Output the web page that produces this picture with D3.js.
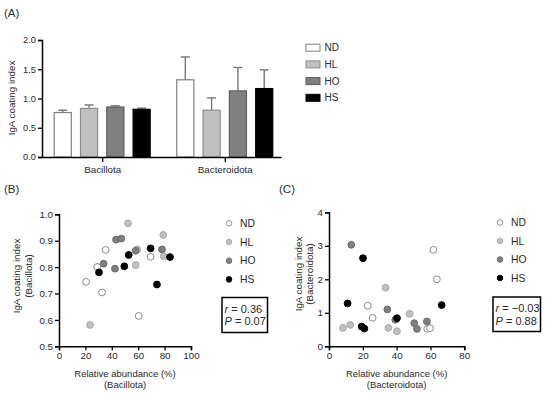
<!DOCTYPE html>
<html>
<head>
<meta charset="utf-8">
<script src="https://cdn.jsdelivr.net/npm/d3@7/dist/d3.min.js"></script>
<style>
  html, body { margin: 0; padding: 0; background: #fff; }
  svg { display: block; font-family: "Liberation Sans", Arial, Helvetica, sans-serif; }
</style>
</head>
<body>
<svg id="chart" width="550" height="393"></svg>
<script>
// ---------- DATA ----------
const groups = ["ND", "HL", "HO", "HS"];
const barCategories = ["Bacillota", "Bacteroidota"];
const bacillotaMean = [0.76, 0.83, 0.855, 0.815];
const bacillotaErr = [0.04, 0.06, 0.02, 0.02];
const bacteroidotaMean = [1.32, 0.80, 1.13, 1.17];
const bacteroidotaErr = [0.39, 0.21, 0.40, 0.32];
const barYTicks = [0, 0.5, 1.0, 1.5, 2.0];

const bND = [[20.5, 0.744], [29, 0.801], [35.4, 0.865], [32.6, 0.704], [60.4, 0.615], [69.4, 0.839]];
const bHL = [[52.3, 0.966], [79, 0.922], [79.3, 0.841], [59.3, 0.867], [58.1, 0.808], [23.5, 0.581]];
const bHO = [[33.8, 0.813], [43.2, 0.904], [47.2, 0.908], [42.4, 0.794], [58.1, 0.862], [78, 0.867]];
const bHS = [[30.3, 0.780], [52.8, 0.846], [49.5, 0.803], [69.4, 0.871], [84.1, 0.838], [74.2, 0.734]];
const bXTicks = [0, 20, 40, 60, 80, 100];
const bYTicks = [0.5, 0.6, 0.7, 0.8, 0.9, 1.0];
const bStats = ["0.36", "0.07"];

const cND = [[22.9, 1.21], [25.8, 0.85], [61.7, 2.88], [63.8, 2.00], [58.1, 0.52], [59.7, 0.54]];
const cHL = [[8.3, 0.55], [12.6, 0.64], [33.5, 1.75], [35.1, 0.55], [40.2, 0.45], [47.7, 0.97]];
const cHO = [[13.2, 3.03], [34.5, 1.10], [39.2, 0.79], [50.4, 0.69], [52, 0.52], [57.9, 0.74]];
const cHS = [[20.1, 2.63], [11, 1.28], [40.2, 0.84], [19.3, 0.59], [20.9, 0.53], [66.6, 1.23]];
const cXTicks = [0, 20, 40, 60, 80];
const cYTicks = [0, 1, 2, 3, 4];
const cStats = ["\u22120.03", "0.88"];

// ---------- STYLE ----------
const fills = { ND: "#ffffff", HL: "#c0c0c0", HO: "#808080", HS: "#000000" };
const strokes = { ND: "#8a8a8a", HL: "#a8a8a8", HO: "#6a6a6a", HS: "#000000" };
const barStrokes = { ND: "#808080", HL: "#8c8c8c", HO: "#5e5e5e", HS: "#000000" };
const textColor = "#2a2a2a";

const svg = d3.select("#chart");

function styleAxis(g, fontSize) {
  g.select(".domain").attr("stroke", "#000").attr("stroke-width", 1.5);
  g.selectAll(".tick line").attr("stroke", "#000").attr("stroke-width", 1.3);
  g.selectAll(".tick text").attr("fill", textColor).style("font-size", fontSize + "px")
    .style("font-family", '"Liberation Sans", Arial, sans-serif');
}

// ---------- PANEL A ----------
svg.append("text").attr("x", 4).attr("y", 17).text("(A)")
  .attr("fill", textColor).style("font-size", "11.5px");

const yA = d3.scaleLinear().domain([0, 2]).range([157, 40]);
const xA = d3.scalePoint().domain(barCategories).range([42, 281]).padding(0.475).align(0.517);
const xInner = d3.scaleBand().domain(groups).range([-48, 48]).paddingInner(0.35).paddingOuter(0);

const barData = [];
barCategories.forEach((cat, ci) => {
  const means = ci === 0 ? bacillotaMean : bacteroidotaMean;
  const errs = ci === 0 ? bacillotaErr : bacteroidotaErr;
  groups.forEach((g, gi) => barData.push({ cat, g, mean: means[gi], err: errs[gi] }));
});

const gA = svg.append("g");
gA.selectAll("line.err").data(barData).enter().append("line")
  .attr("x1", d => xA(d.cat) + xInner(d.g) + xInner.bandwidth() / 2)
  .attr("x2", d => xA(d.cat) + xInner(d.g) + xInner.bandwidth() / 2)
  .attr("y1", d => yA(d.mean)).attr("y2", d => yA(d.mean + d.err))
  .attr("stroke", "#777").attr("stroke-width", 1.4);
gA.selectAll("line.cap").data(barData).enter().append("line")
  .attr("x1", d => xA(d.cat) + xInner(d.g) + xInner.bandwidth() / 2 - 4.5)
  .attr("x2", d => xA(d.cat) + xInner(d.g) + xInner.bandwidth() / 2 + 4.5)
  .attr("y1", d => yA(d.mean + d.err)).attr("y2", d => yA(d.mean + d.err))
  .attr("stroke", "#777").attr("stroke-width", 1.4);
gA.selectAll("rect.bar").data(barData).enter().append("rect")
  .attr("x", d => xA(d.cat) + xInner(d.g))
  .attr("width", xInner.bandwidth())
  .attr("y", d => yA(d.mean))
  .attr("height", d => yA(0) - yA(d.mean))
  .attr("fill", d => fills[d.g])
  .attr("stroke", d => barStrokes[d.g]).attr("stroke-width", 1.2);

const axAY = svg.append("g").attr("transform", "translate(42,0)")
  .call(d3.axisLeft(yA).tickValues(barYTicks).tickFormat(d3.format(".1f")).tickSize(4).tickPadding(2));
styleAxis(axAY, 9.3);
const axAX = svg.append("g").attr("transform", "translate(0,157)")
  .call(d3.axisBottom(xA).tickSize(5).tickSizeOuter(0).tickPadding(4));
styleAxis(axAX, 9.8);

svg.append("text").attr("transform", "translate(15,98) rotate(-90)")
  .attr("text-anchor", "middle").attr("fill", textColor).style("font-size", "9.8px")
  .text("IgA coating index");

const legA = svg.append("g");
groups.forEach((g, i) => {
  const cy = 47.7 + i * 16.7;
  legA.append("rect").attr("x", 306).attr("y", cy - 3.5).attr("width", 14).attr("height", 7)
    .attr("fill", fills[g]).attr("stroke", barStrokes[g]).attr("stroke-width", 1);
  legA.append("text").attr("x", 324.5).attr("y", cy).attr("dy", "0.35em")
    .attr("fill", textColor).style("font-size", "10px").text(g);
});

// ---------- SCATTER PANELS ----------
function scatterPanel(opts) {
  const { label, labelX, x0, x1, xDom, y0, y1, yDom, xTicks, yTicks, yFmt, series, yLabel2, xLabel2,
          yLab1X, yLab2X, yLabY, legX, legY, legStep, boxX, boxY, boxW, boxH, stats } = opts;
  svg.append("text").attr("x", labelX).attr("y", 193).text(label)
    .attr("fill", textColor).style("font-size", "11.5px");
  const x = d3.scaleLinear().domain(xDom).range([x0, x1]);
  const y = d3.scaleLinear().domain(yDom).range([y0, y1]);
  const ay = svg.append("g").attr("transform", `translate(${x0},0)`)
    .call(d3.axisLeft(y).tickValues(yTicks).tickFormat(yFmt).tickSize(4).tickPadding(2));
  styleAxis(ay, 9.8);
  const ax = svg.append("g").attr("transform", `translate(0,${y0})`)
    .call(d3.axisBottom(x).tickValues(xTicks).tickFormat(d3.format("d")).tickSize(4).tickPadding(2));
  styleAxis(ax, 9.8);

  const g = svg.append("g");
  series.forEach(s => {
    g.selectAll(null).data(s.pts).enter().append("circle")
      .attr("cx", d => x(d[0])).attr("cy", d => y(d[1])).attr("r", 3.4)
      .attr("fill", fills[s.g]).attr("stroke", strokes[s.g]).attr("stroke-width", 1);
  });

  const xc = (x0 + x1) / 2;
  svg.append("text").attr("x", xc).attr("y", 377).attr("text-anchor", "middle")
    .attr("fill", textColor).style("font-size", "9.5px").text("Relative abundance (%)");
  svg.append("text").attr("x", xc).attr("y", 388).attr("text-anchor", "middle")
    .attr("fill", textColor).style("font-size", "9.5px").text(xLabel2);
  svg.append("text").attr("transform", `translate(${yLab1X},${yLabY}) rotate(-90)`)
    .attr("text-anchor", "middle").attr("fill", textColor).style("font-size", "9.8px")
    .text("IgA coating index");
  svg.append("text").attr("transform", `translate(${yLab2X},${yLabY}) rotate(-90)`)
    .attr("text-anchor", "middle").attr("fill", textColor).style("font-size", "9.8px")
    .text(yLabel2);

  groups.forEach((gr, i) => {
    const cy = legY + i * legStep;
    svg.append("circle").attr("cx", legX).attr("cy", cy).attr("r", 2.8)
      .attr("fill", fills[gr]).attr("stroke", strokes[gr]).attr("stroke-width", 0.9);
    svg.append("text").attr("x", legX + 11).attr("y", cy).attr("dy", "0.35em")
      .attr("fill", textColor).style("font-size", "10.3px").text(gr);
  });

  svg.append("rect").attr("x", boxX).attr("y", boxY).attr("width", boxW).attr("height", boxH)
    .attr("fill", "none").attr("stroke", "#000").attr("stroke-width", 1.5);
  const t1 = svg.append("text").attr("x", boxX + 2.5).attr("y", boxY + 15)
    .attr("fill", textColor).style("font-size", "11px");
  t1.append("tspan").style("font-style", "italic").text("r");
  t1.append("tspan").text(" = " + stats[0]);
  const t2 = svg.append("text").attr("x", boxX + 2.5).attr("y", boxY + 27.5)
    .attr("fill", textColor).style("font-size", "11px");
  t2.append("tspan").style("font-style", "italic").text("P");
  t2.append("tspan").text(" = " + stats[1]);
}

scatterPanel({
  label: "(B)", labelX: 4,
  x0: 59, x1: 191, xDom: [0, 100], y0: 346.3, y1: 214.3, yDom: [0.5, 1.0],
  xTicks: bXTicks, yTicks: bYTicks, yFmt: d3.format(".1f"),
  series: [{ g: "ND", pts: bND }, { g: "HL", pts: bHL }, { g: "HO", pts: bHO }, { g: "HS", pts: bHS }],
  yLabel2: "(Bacillota)", xLabel2: "(Bacillota)",
  yLab1X: 20, yLab2X: 32, yLabY: 276,
  legX: 229, legY: 223.3, legStep: 18.7,
  boxX: 222, boxY: 297.5, boxW: 45.5, boxH: 35, stats: bStats
});

scatterPanel({
  label: "(C)", labelX: 279,
  x0: 329, x1: 464.3, xDom: [0, 80], y0: 346.3, y1: 212.3, yDom: [0, 4],
  xTicks: cXTicks, yTicks: cYTicks, yFmt: d3.format("d"),
  series: [{ g: "ND", pts: cND }, { g: "HL", pts: cHL }, { g: "HO", pts: cHO }, { g: "HS", pts: cHS }],
  yLabel2: "(Bacteroidota)", xLabel2: "(Bacteroidota)",
  yLab1X: 302, yLab2X: 313, yLabY: 274,
  legX: 500, legY: 222.5, legStep: 18.5,
  boxX: 493, boxY: 297, boxW: 47.5, boxH: 34.5, stats: cStats
});
</script>
</body>
</html>
